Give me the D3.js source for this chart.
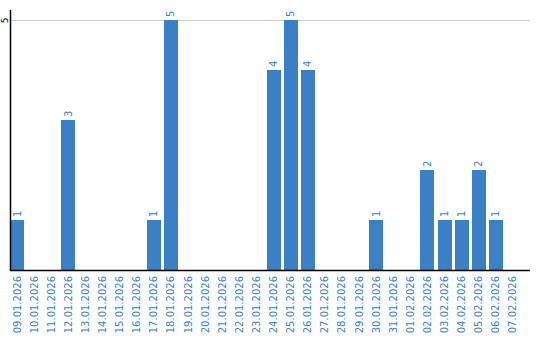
<!DOCTYPE html>
<html><head><meta charset="utf-8">
<script src="https://cdn.jsdelivr.net/npm/d3@7"></script>
<style>body{margin:0;background:#fff}svg{display:block}</style>
</head><body>
<script>
const categories = ["09.01.2026","10.01.2026","11.01.2026","12.01.2026","13.01.2026","14.01.2026","15.01.2026","16.01.2026","17.01.2026","18.01.2026","19.01.2026","20.01.2026","21.01.2026","22.01.2026","23.01.2026","24.01.2026","25.01.2026","26.01.2026","27.01.2026","28.01.2026","29.01.2026","30.01.2026","31.01.2026","01.02.2026","02.02.2026","03.02.2026","04.02.2026","05.02.2026","06.02.2026","07.02.2026"];
const values = [1,0,0,3,0,0,0,0,1,5,0,0,0,0,0,4,5,4,0,0,0,1,0,0,2,1,1,2,1,0];
const yTicks = [5];

const W = 540, H = 340;
const svg = d3.select("body").append("svg").attr("width", W).attr("height", H);
const color = "#3b7fc4";
const font = "DejaVu Sans, Verdana, sans-serif";

const x = d3.scaleBand().domain(categories).range([10, 520]).paddingInner(3/17).paddingOuter(0);
const y = d3.scaleLinear().domain([0, 5.2]).range([270, 10]);

// gridlines
svg.append("g").selectAll("line").data(yTicks).join("line")
  .attr("x1", 10).attr("x2", 530).attr("y1", d => y(d)).attr("y2", d => y(d))
  .attr("stroke", "#cccccc").attr("stroke-width", 1).attr("shape-rendering", "crispEdges");

const rows = categories.map((c, i) => ({c, v: values[i]})).filter(d => d.v > 0);

// bars
svg.append("g").selectAll("rect").data(rows).join("rect")
  .attr("x", d => x(d.c)).attr("width", x.bandwidth())
  .attr("y", d => y(d.v)).attr("height", d => y(0) - y(d.v))
  .attr("fill", color).attr("shape-rendering", "crispEdges");

// value labels
svg.append("g").selectAll("text").data(rows).join("text")
  .attr("transform", d => `translate(${x(d.c) + x.bandwidth()/2},${y(d.v) - 3}) rotate(-90)`)
  .attr("dy", "0.35em").attr("text-anchor", "start")
  .attr("font-family", font).attr("font-size", 10).attr("fill", color)
  .text(d => d.v);

// x axis
const xAxis = svg.append("g").attr("transform", "translate(0,270)")
  .call(d3.axisBottom(x).tickSize(0).tickPadding(0));
xAxis.select(".domain").remove();
xAxis.selectAll("text")
  .attr("transform", "translate(0,6) rotate(-90)")
  .attr("text-anchor", "end").attr("dy", "0.35em").attr("y", 0).attr("x", 0)
  .attr("font-family", font).attr("font-size", 10).attr("fill", color);
svg.append("line").attr("x1", 10).attr("x2", 530).attr("y1", 270.5).attr("y2", 270.5)
  .attr("stroke", "#000").attr("stroke-width", 1.5);

// y axis
svg.append("line").attr("x1", 10.5).attr("x2", 10.5).attr("y1", 10).attr("y2", 271)
  .attr("stroke", "#000").attr("stroke-width", 1.5);
const yAxis = svg.append("g").attr("transform", "translate(10,0)")
  .call(d3.axisLeft(y).tickValues(yTicks).tickFormat(d3.format("d")).tickSize(0).tickPadding(0));
yAxis.select(".domain").remove();
yAxis.selectAll("text")
  .attr("transform", "translate(-5,0) rotate(-90)")
  .attr("text-anchor", "middle").attr("dy", "0.35em").attr("x", 0).attr("y", 0)
  .attr("font-family", font).attr("font-size", 9).attr("fill", "#000");
</script>
</body></html>
